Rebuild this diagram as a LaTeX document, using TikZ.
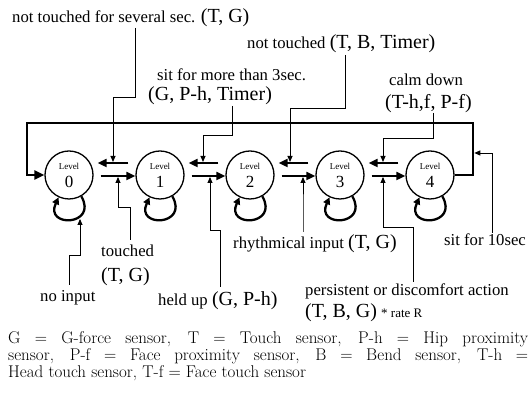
\documentclass[tikz,border=0pt]{standalone}
\usepackage{fontspec}
\newfontfamily\labelfont{Liberation Serif}
\usetikzlibrary{arrows.meta,calc}

\newcommand{\sens}[1]{{\fontsize{20}{22}\selectfont #1}}

\tikzset{
  lvl/.style={circle, draw, line width=1.3pt, minimum size=48pt, inner sep=0pt,
    align=center, font=\labelfont},
  flow/.style={line width=2pt, -{Triangle[length=9pt,width=8pt]}},
  frame/.style={line width=2.6pt, -{Triangle[length=10pt,width=9pt]}},
  feed/.style={line width=0.9pt, -{Triangle[length=6pt,width=5pt]}},
  selfloop/.style={line width=2.3pt, -{Triangle[length=7pt,width=7pt]},
    out=-60, in=-115, distance=34pt},
  lab/.style={font=\labelfont\fontsize{16.7}{19}\selectfont, inner sep=0pt, anchor=base west},
  leg/.style={font=\fontsize{17}{15}\selectfont, inner sep=0pt, anchor=base west},
}

\begin{document}
\begin{tikzpicture}[x=1pt,y=1pt]
\useasboundingbox (0,0) rectangle (531,395);

% levels
\foreach \i/\x in {0/69,1/160,2/250,3/340,4/430}
  \node[lvl] (L\i) at (\x,220)
    {{\fontsize{9}{9}\selectfont Level}\\[6pt]{\fontsize{17}{17}\selectfont \i}};
\foreach \i in {0,...,4}
  \draw[selfloop] (L\i) to (L\i);

% arrows between levels
\foreach \i/\j in {0/1,1/2,2/3,3/4} {
  \draw[flow] ($(L\j.west)+(-7,12)$) -- ($(L\i.east)+(4,12)$);
  \draw[flow] ($(L\i.east)+(7,-1)$) -- ($(L\j.west)+(0,-1)$);
}

% back to level 0
\coordinate (fr) at (473,272);
\coordinate (fl) at (27,272);
\draw[frame] (L4.east) -| (fr) -- (fl) |- (L0.west);

% labels
\node[lab] (nts) at (12,372) {not touched for several sec. \sens{(T, G)}};
\node[lab] (ntt) at (247,346) {not touched \sens{(T, B, Timer)}};
\node[lab] (sita) at (157,314) {sit for more than 3sec.};
\node[lab] (sitb) at (148,294) {\sens{(G, P-h, Timer)}};
\node[lab] (calma) at (389,309) {calm down};
\node[lab] (calmb) at (385,286) {\sens{(T-h,f, P-f)}};
\node[lab] (toua) at (101,138) {touched};
\node[lab] (toub) at (101,113) {\sens{(T, G)}};
\node[lab] (noin) at (40,93) {no input};
\node[lab] (held) at (158,89) {held up \sens{(G, P-h)}};
\node[lab] (rhy) at (233,146) {rhythmical input \sens{(T, G)}};
\node[lab] (sitt) at (444,149) {sit for 10sec};
\node[lab] (pera) at (305,99) {persistent or discomfort action};
\node[lab] (perb) at (305,77) {\sens{(T, B, G)} {\fontsize{13}{13}\selectfont * rate R}};

% inputs from above
\foreach \n/\sx/\sy/\my/\tx in {0/135/367/298/113, 1/232/289/260/203,
    2/345/340/287/290, 3/433/282/257/383} {
  \coordinate (up\n) at (\sx,\sy);
  \coordinate (in\n) at (\tx,233);
  \draw[feed] (up\n) |- (\tx,\my) -- (in\n);
}
% inputs from below
\foreach \n/\sx/\sy/\my/\tx in {0/130/155/188/118, 1/220/108/165/210,
    2/303/163/190/303, 3/413/113/168/383} {
  \coordinate (dn\n) at (\sx,\sy);
  \coordinate (out\n) at (\tx,218);
  \draw[feed] (dn\n) |- (\tx,\my) -- (out\n);
}
\coordinate (ni) at (69,110);
\coordinate (nl) at (80,176);
\draw[feed] (ni) |- (80,140) -- (nl);
\coordinate (st) at (492,162);
\coordinate (sf) at (474.3,242);
\draw[feed] (st) |- (sf);

% legend
\node[leg] (g1) at (8,51) {\makebox[520pt][s]{G = G-force sensor, T = Touch sensor, P-h = Hip proximity}};
\node[leg] (g2) at (8,34) {\makebox[520pt][s]{sensor, P-f = Face proximity sensor, B = Bend sensor, T-h =}};
\node[leg] (g3) at (8,17) {Head touch sensor, T-f = Face touch sensor};
\end{tikzpicture}
\end{document}
